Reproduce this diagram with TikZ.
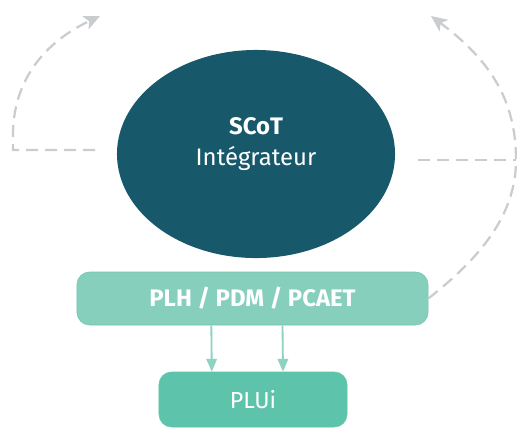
\documentclass[tikz,border=0pt]{standalone}
\usepackage{fontspec}
\setmainfont{Fira Sans}
\usepackage{tikz}
\usetikzlibrary{shapes,arrows.meta,positioning,calc}
\usepackage{xcolor}
\definecolor{scotblue}{HTML}{17596B}
\definecolor{plhgreen}{HTML}{86CFBD}
\definecolor{plhborder}{HTML}{6EC4AE}
\definecolor{pluigreen}{HTML}{5DC4AB}
\definecolor{arrowgreen}{HTML}{8ED3C1}
\definecolor{loopgrey}{HTML}{C8CDD0}

\begin{document}
\begin{tikzpicture}[x=0.025cm, y=-0.025cm,
    scot/.style={ellipse, fill=scotblue,
        minimum width=6.95cm, minimum height=5.2cm},
    scottext/.style={text=white, align=center,
        font=\fontsize{17}{22}\selectfont},
    plan/.style={rectangle, draw=plhborder, fill=plhgreen, text=white,
        minimum width=8.775cm, minimum height=1.325cm,
        font=\fontsize{17}{20}\selectfont\bfseries, rounded corners=9pt},
    local/.style={rectangle, draw=pluigreen, fill=pluigreen, text=white,
        minimum width=4.7cm, minimum height=1.375cm,
        font=\fontsize{16.5}{20}\selectfont, rounded corners=9pt},
    down/.style={-{Triangle[length=3.2mm, width=2.6mm]}, line width=1.3pt, arrowgreen},
    loop/.style={-{Stealth[length=4mm, width=3.6mm, inset=1mm]}, dash pattern=on 8.5pt off 5pt,
        line width=1.6pt, loopgrey}
]
    \useasboundingbox (0,0) rectangle (517,428);

    \node[scot] (scot) at (256,154) {};
    \node[scottext] (scotlabel) at (256,144) {\textbf{SCoT}\\Intégrateur};
    \node[plan] (plh) at (252.5,298.5) {PLH / PDM / PCAET};
    \node[local] (plui) at (253,399.5) {PLUi};

    \draw[down] ([xshift=-1.03cm]plh.south) -- ([xshift=-1.03cm]plui.north);
    \draw[down] ([xshift=0.75cm]plh.south) -- ([xshift=0.75cm]plui.north);

    % left loop
    \coordinate (lstart) at (95,150);
    \coordinate (lcorner) at (13,150);
    \coordinate (ltip) at (100,16);
    \draw[loop] (lstart) -- (lcorner) -- (13,135)
        .. controls (13,80) and (45,42) .. (ltip);

    % right loop
    \coordinate (rstart) at (418,160);
    \coordinate (redge) at (516,160);
    \coordinate (rtip) at (431,16);
    \draw[loop, -] (rstart) -- (redge);
    \draw[loop] (plh.east) .. controls (480,258) and (516,215) .. (redge)
        .. controls (516,100) and (490,60) .. (rtip);
\end{tikzpicture}
\end{document}
